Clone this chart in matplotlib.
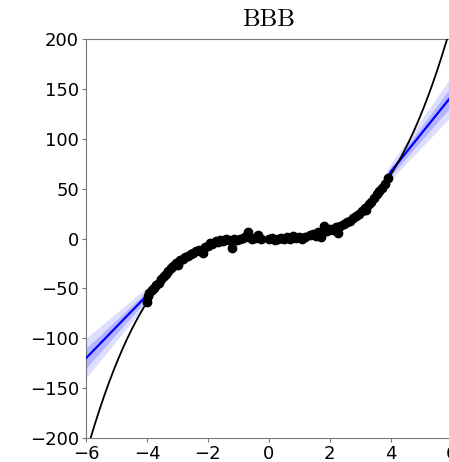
import numpy as np
import matplotlib
matplotlib.use("Agg")
import matplotlib.pyplot as plt

# observed data points
data_x = [-4.00, -3.97, -3.92, -3.85, -3.78, -3.70, -3.62, -3.55, -3.45, -3.38,
          -3.30, -3.22, -3.15, -3.05, -2.98, -2.90, -2.82, -2.75, -2.65, -2.55,
          -2.48, -2.40, -2.30, -2.20, -2.15, -2.10, -2.00, -1.92, -1.85, -1.75,
          -1.68, -1.60, -1.50, -1.42, -1.30, -1.20, -1.15, -1.05, -0.95, -0.85,
          -0.75, -0.70, -0.65, -0.55, -0.45, -0.35, -0.25, 0.00, 0.10, 0.20,
          0.30, 0.40, 0.50, 0.60, 0.70, 0.80, 0.90, 1.00, 1.10, 1.20,
          1.35, 1.45, 1.55, 1.60, 1.70, 1.75, 1.80, 1.90, 2.00, 2.10,
          2.20, 2.28, 2.35, 2.45, 2.55, 2.65, 2.75, 2.85, 2.95, 3.05,
          3.15, 3.20, 3.28, 3.35, 3.45, 3.55, 3.62, 3.70, 3.80, 3.90]
data_y = [-64, -58, -55, -52, -50, -47, -45, -41, -38, -36,
          -33, -30, -28, -25, -27, -22, -21, -19, -18, -16,
          -15, -13, -12, -14, -15, -9, -8, -5, -6, -3,
          -4, -2, -3, -1, -2, -10, 0, -2, -1, 1,
          3, 7, 2, 0, 1, 4, 0, -1, 1, -2,
          0, 1, -1, 2, 0, 3, 1, 2, 0, 2,
          4, 5, 3, 7, 2, 6, 13, 8, 10, 9,
          12, 6, 13, 15, 17, 18, 21, 23, 25, 28,
          31, 29, 35, 37, 41, 45, 48, 51, 55, 61]

# predictive mean (blue) and its spread
mean_x = [-6, -4, -3.5, -3, -2.5, -2, -1.5, -1, 0, 1, 1.5, 2, 2.5, 3, 3.5, 4, 6]
mean_y = [-120, -57, -41, -26, -15, -7, -3, -1, 0, 2, 4, 8, 15, 26, 42, 67, 143]
spread = [10, 4, 3, 2.5, 2, 2, 2, 2, 2, 2, 2, 2, 2, 2.5, 3, 4, 10]

# true function
true_x = np.linspace(-6, 6, 400)
true_y = true_x ** 3

fig = plt.figure(figsize=(4.49, 4.62), dpi=100)
ax = fig.add_axes([86 / 449, 24 / 462, 365.7 / 449, 399 / 462])

mx = np.array(mean_x, dtype=float)
my = np.array(mean_y, dtype=float)
sp = np.array(spread, dtype=float)
ax.fill_between(mx, my - 2 * sp, my + 2 * sp, color="#d0d0ff", alpha=0.7, lw=0)
ax.fill_between(mx, my - sp, my + sp, color="#9a9aff", alpha=0.6, lw=0)
ax.plot(mx, my, color="blue", lw=1.6, zorder=3)
ax.plot(true_x, true_y, color="black", lw=1.3, zorder=4)
ax.scatter(data_x, data_y, s=36, color="black", zorder=5)

ax.set_xlim(-6, 6)
ax.set_ylim(-200, 200)
ax.set_xticks([-6, -4, -2, 0, 2, 4, 6])
ax.set_yticks([-200, -150, -100, -50, 0, 50, 100, 150, 200])
ax.tick_params(labelsize=13, color="#777777", length=3, pad=2)
for s in ax.spines.values():
    s.set_color("#777777")
ax.set_title("BBB", fontsize=18, fontfamily="cmr10", pad=9)

fig.savefig("out.png", dpi=100)
